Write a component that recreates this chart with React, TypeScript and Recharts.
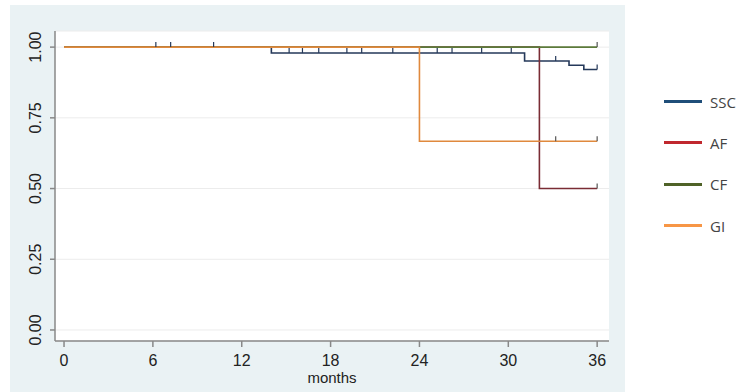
import React from "react";
import { LineChart, Line, XAxis, YAxis, CartesianGrid } from "recharts";

// Kaplan-Meier style survival steps (t = months, s = survival, c = censored mark)
const ssc = [
  { t: 0, s: 1 },
  { t: 6.2, s: 1, c: true },
  { t: 7.2, s: 1, c: true },
  { t: 10.1, s: 1, c: true },
  { t: 14.0, s: 0.979 },
  { t: 15.2, s: 0.979, c: true },
  { t: 16.1, s: 0.979, c: true },
  { t: 17.2, s: 0.979, c: true },
  { t: 19.1, s: 0.979, c: true },
  { t: 20.1, s: 0.979, c: true },
  { t: 22.2, s: 0.979, c: true },
  { t: 25.2, s: 0.979, c: true },
  { t: 26.2, s: 0.979, c: true },
  { t: 28.2, s: 0.979, c: true },
  { t: 30.2, s: 0.979, c: true },
  { t: 31.1, s: 0.951 },
  { t: 33.2, s: 0.951, c: true },
  { t: 34.1, s: 0.936 },
  { t: 35.1, s: 0.921 },
  { t: 36, s: 0.921, c: true },
];
const af = [
  { t: 0, s: 1 },
  { t: 32.1, s: 0.5 },
  { t: 36, s: 0.5, c: true },
];
const cf = [
  { t: 0, s: 1 },
  { t: 36, s: 1, c: true },
];
const gi = [
  { t: 0, s: 1 },
  { t: 24, s: 0.667 },
  { t: 33.2, s: 0.667, c: true },
  { t: 36, s: 0.667, c: true },
];

const xTicks = [0, 6, 12, 18, 24, 30, 36];
const yTicks = [0, 0.25, 0.5, 0.75, 1];
const yTickLabels = ["0.00", "0.25", "0.50", "0.75", "1.00"];

const series = [
  { name: "SSC", data: ssc, line: "#25395a", legend: "#1f4e79", mark: "#25395a" },
  { name: "AF", data: af, line: "#7a2c34", legend: "#c0282e", mark: "#555" },
  { name: "CF", data: cf, line: "#5c7a3a", legend: "#4f6228", mark: "#555" },
  { name: "GI", data: gi, line: "#e0893d", legend: "#f79646", mark: "#555" },
];

const FONT = "Liberation Sans, Arial, sans-serif";

const makeDot = (color: string) => (props: any) => {
  const { cx, cy, payload, index } = props;
  if (!payload || !payload.c) return <g key={`d-${index}`} />;
  return (
    <line
      key={`d-${index}`}
      x1={cx}
      x2={cx}
      y1={cy}
      y2={cy - 5}
      stroke={color}
      strokeWidth={1.2}
    />
  );
};

const YTick = (props: any) => {
  const { y, payload } = props;
  const i = yTicks.indexOf(payload.value);
  return (
    <text
      x={41}
      y={y}
      transform={`rotate(-90, 41, ${y})`}
      textAnchor="middle"
      fontFamily={FONT}
      fontSize={16}
      fill="#222"
    >
      {i >= 0 ? yTickLabels[i] : payload.value}
    </text>
  );
};

export default function App() {
  return (
    <div style={{ position: "absolute", left: 0, top: 0, width: 739, height: 392, background: "#fff" }}>
      <div
        style={{
          position: "absolute",
          left: 10,
          top: 5,
          width: 615,
          height: 387,
          background: "#eaf2f4",
        }}
      />
      <div style={{ position: "absolute", left: 0, top: 0 }}>
        <LineChart
          width={739}
          height={392}
          margin={{ top: 31, right: 130, bottom: 0, left: 0 }}
        >
          <CartesianGrid horizontal vertical={false} stroke="#ececec" fill="#ffffff" />
          <XAxis
            type="number"
            dataKey="t"
            domain={[-0.61, 36.8]}
            ticks={xTicks}
            allowDataOverflow
            height={51}
            tickSize={6}
            tickMargin={8}
            stroke="#888"
            strokeWidth={1.5}
            tick={{ fontSize: 16, fill: "#222", fontFamily: FONT }}
            label={{
              value: "months",
              position: "insideBottom",
              offset: 9,
              fontSize: 15,
              fill: "#222",
              fontFamily: FONT,
            }}
          />
          <YAxis
            type="number"
            dataKey="s"
            domain={[-0.039, 1.057]}
            ticks={yTicks}
            allowDataOverflow
            width={55}
            tickSize={5}
            stroke="#888"
            strokeWidth={1.5}
            tick={<YTick />}
          />
          {series.map((s) => (
            <Line
              key={s.name}
              name={s.name}
              data={s.data}
              dataKey="s"
              type="stepAfter"
              stroke={s.line}
              strokeWidth={1.6}
              dot={makeDot(s.mark)}
              activeDot={false}
              isAnimationActive={false}
            />
          ))}
        </LineChart>
      </div>
      <div
        style={{
          position: "absolute",
          left: 664,
          top: 81,
          fontFamily: "'Open Sans', sans-serif",
          fontSize: 15,
          color: "#444",
        }}
      >
        {series.map((s) => (
          <div key={s.name} style={{ display: "flex", alignItems: "center", height: 41.3 }}>
            <div style={{ width: 38, height: 3, background: s.legend, marginRight: 8 }} />
            <span>{s.name}</span>
          </div>
        ))}
      </div>
    </div>
  );
}
